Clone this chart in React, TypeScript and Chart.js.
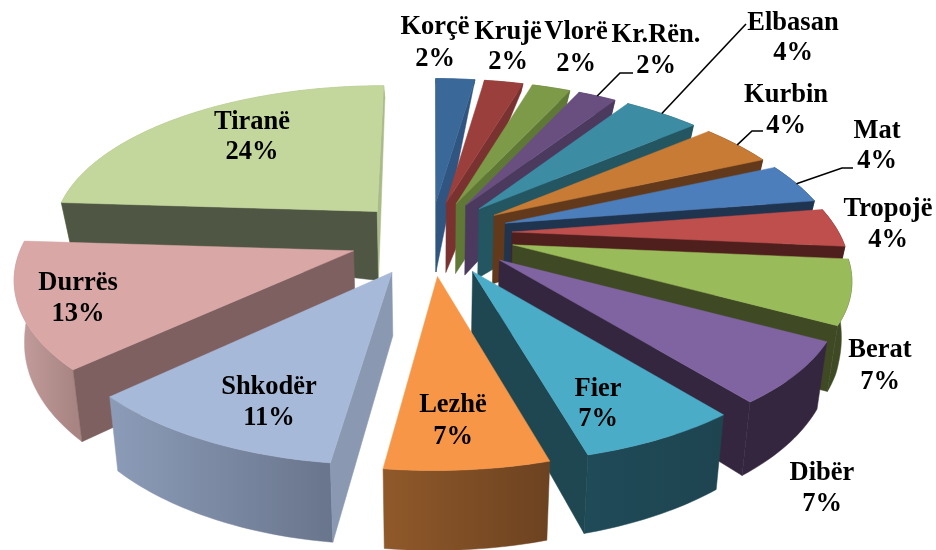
import React, { useEffect, useRef } from "react";
import { Chart, registerables } from "chart.js";

Chart.register(...registerables);

const categories = ["Korçë", "Krujë", "Vlorë", "Kr.Rën.", "Elbasan", "Kurbin", "Mat", "Tropojë", "Berat", "Dibër", "Fier", "Lezhë", "Shkodër", "Durrës", "Tiranë"];
const shares = [2, 2, 2, 2, 4, 4, 4, 4, 7, 7, 7, 7, 11, 13, 24];

const topColors = ["#3A6899", "#9B3F3C", "#7C9A47", "#694F80", "#3C8DA3", "#C87B35", "#4D7EBC", "#BE4F4C", "#9ABB59", "#8064A2", "#4AACC6", "#F79646", "#A7B9D8", "#D8A7A6", "#C3D69B"];
const startWall = ["#2F5580", "#7A3230", "#607836", "#4B3A5E", "#235661", "#62391A", "#1F344F", "#4F1F1E", "#3F4A24", "#35263F", "#1E4752", "#7A4A22", "#8A98B2", "#7E6060", "#4F5744"];
const endWall = ["#2F5580", "#7A3230", "#607836", "#4B3A5E", "#235661", "#62391A", "#1F344F", "#4F1F1E", "#3F4A24", "#35263F", "#1E4752", "#7A4A22", "#8A98B2", "#7E6060", "#A9BB88"];
const outerFrom = ["#2F5580", "#7A3230", "#607836", "#4B3A5E", "#235661", "#62391A", "#1F344F", "#4F1F1E", "#3F4A24", "#35263F", "#1F4A58", "#90592A", "#8C9CB8", "#C09B99", "#A9BB88"];
const outerTo = ["#2F5580", "#7A3230", "#607836", "#4B3A5E", "#235661", "#62391A", "#1F344F", "#4F1F1E", "#3F4A24", "#35263F", "#1E4450", "#6C4220", "#69758C", "#A88482", "#A9BB88"];

// Text placement of each data label: centre x, first line y, second line y.
const labelSpots: [number, number, number][] = [
  [435, 27, 59], [508, 32, 62], [576, 32, 64], [656, 35, 66], [793, 23, 53],
  [786, 95, 126], [877, 131, 161], [888, 209, 240], [880, 350, 382], [822, 473, 504],
  [598, 389, 419], [453, 405, 437], [269, 387, 418], [78, 283, 314], [252, 122, 152],
];
// Elbow points of the leader lines, by category index.
const leaders: Record<number, [number, number][]> = {
  3: [[620, 73], [633, 73]],
  4: [[746, 24]],
  5: [[752, 131], [763, 131]],
  6: [[842, 168], [853, 168]],
};

const SX = 332;
const SY = 152;
const PERSPECTIVE_X = 0.135;
const PERSPECTIVE_Y = 0.15;

function depthAt(u: number, v: number) {
  let d: number;
  if (v < -0.25) d = Math.max(4, 70 - 66 * (v + 0.25) * (v + 0.25));
  else if (v < 0.25) d = 70 - (v + 0.25) * 14;
  else d = 63 + (v - 0.25) * 17;
  const side = Math.min(1, Math.max(0, Math.abs(u) - 0.3));
  const back = Math.min(1, Math.max(0, (0.3 - v) / 0.6));
  return d * (1 - 0.5 * side * back);
}

const pie3d = {
  id: "pie3d",
  beforeDatasetsDraw(chart: any) {
    const ctx: CanvasRenderingContext2D = chart.ctx;
    const arcs = chart.getDatasetMeta(0).data as any[];
    const project = (cx: number, cy: number, u: number, v: number, lower: boolean): [number, number] => {
      let x = (SX * u) / (1 - PERSPECTIVE_X * v) + (v > 0 ? -6 * v : 0);
      let y = cy + (SY * v) / (1 - PERSPECTIVE_Y * v);
      if (u > 0) {
        y += 16 * u * u;
        x += 5 * u - 18 * v * u;
      } else {
        x += -4.5 * u * Math.min(1, Math.max(0.5, 0.5 - 2 * v));
      }
      if (lower) {
        x *= 0.975;
        y += depthAt(u, v);
      }
      return [cx + x, y];
    };
    const fillPoly = (pts: [number, number][], fill: any) => {
      ctx.beginPath();
      pts.forEach((p, i) => (i ? ctx.lineTo(p[0], p[1]) : ctx.moveTo(p[0], p[1])));
      ctx.closePath();
      ctx.fillStyle = fill;
      ctx.strokeStyle = fill;
      ctx.lineWidth = 0.5;
      ctx.fill();
      ctx.stroke();
    };
    const sideOf = (p: [number, number], q: [number, number], r: [number, number]) =>
      (q[0] - p[0]) * (r[1] - p[1]) - (q[1] - p[1]) * (r[0] - p[0]);
    const order = arcs.map((_, i) => i).sort((p, q) => {
      const mid = (a: any) => (a.startAngle + a.endAngle) / 2;
      return Math.sin(mid(arcs[p])) - Math.sin(mid(arcs[q]));
    });
    ctx.save();
    order.forEach((i) => {
      const arc = arcs[i];
      const mid = (arc.startAngle + arc.endAngle) / 2;
      const ex = arc.options.offset / arc.outerRadius;
      const ou = ex * Math.cos(mid);
      const ov = ex * Math.sin(mid);
      const steps = Math.max(4, Math.ceil((arc.endAngle - arc.startAngle) / 0.02));
      const rim: [number, number][] = [];
      for (let s = 0; s <= steps; s++) {
        const t = arc.startAngle + ((arc.endAngle - arc.startAngle) * s) / steps;
        rim.push([ou + Math.cos(t), ov + Math.sin(t)]);
      }
      const up = (p: [number, number]) => project(arc.x, arc.y, p[0], p[1], false);
      const dn = (p: [number, number]) => project(arc.x, arc.y, p[0], p[1], true);
      const tip: [number, number] = [ou, ov];
      const a = rim[0];
      const b = rim[rim.length - 1];
      const xa = up(a)[0];
      const xb = up(b)[0];
      const grad = ctx.createLinearGradient(Math.min(xa, xb), 0, Math.max(xa, xb) + 1, 0);
      grad.addColorStop(0, outerFrom[i]);
      grad.addColorStop(1, outerTo[i]);
      fillPoly([...rim.map(up), ...rim.slice().reverse().map(dn)], grad);
      const inner = up([ou + 0.5 * Math.cos(mid), ov + 0.5 * Math.sin(mid)]);
      const wall = (corner: [number, number], colour: string) => {
        const p = up(tip);
        const q = up(corner);
        const below: [number, number] = [(p[0] + q[0]) / 2, (p[1] + q[1]) / 2 + 10];
        if (sideOf(p, q, below) * sideOf(p, q, inner) < 0) {
          fillPoly([p, q, dn(corner), dn(tip)], colour);
        }
      };
      wall(a, startWall[i]);
      wall(b, endWall[i]);
      fillPoly([up(tip), ...rim.map(up)], arc.options.backgroundColor);
    });
    // leader lines, from the middle of the slice's rim
    ctx.strokeStyle = "#000";
    ctx.lineWidth = 1.6;
    Object.keys(leaders).forEach((key) => {
      const i = Number(key);
      const arc = arcs[i];
      const mid = (arc.startAngle + arc.endAngle) / 2;
      const ex = arc.options.offset / arc.outerRadius;
      const s = project(arc.x, arc.y, (1 + ex) * Math.cos(mid), (1 + ex) * Math.sin(mid), false);
      ctx.beginPath();
      ctx.moveTo(s[0], s[1]);
      leaders[i].forEach((p) => ctx.lineTo(p[0], p[1]));
      ctx.stroke();
    });
    // data labels
    ctx.fillStyle = "#000";
    ctx.font = 'bold 26.5px "Liberation Serif"';
    ctx.textAlign = "center";
    ctx.textBaseline = "middle";
    arcs.forEach((_, i) => {
      const [x, y1, y2] = labelSpots[i];
      ctx.fillText(categories[i], x, y1);
      ctx.fillText(shares[i] + "%", x, y2);
    });
    ctx.restore();
    return false;
  },
};

export default function App() {
  const ref = useRef<HTMLCanvasElement>(null);
  useEffect(() => {
    document.body.style.margin = "0";
    document.body.style.background = "#fff";
    const chart = new Chart(ref.current!, {
      type: "pie",
      data: {
        labels: categories,
        datasets: [{ data: shares, backgroundColor: topColors, borderWidth: 0, offset: 52 }],
      },
      options: {
        animation: false,
        responsive: false,
        layout: { padding: { right: 74, bottom: 74, left: 0, top: 0 } },
        plugins: { legend: { display: false }, tooltip: { enabled: false }, title: { display: false } },
        events: [],
      },
      plugins: [pie3d],
    } as any);
    return () => chart.destroy();
  }, []);
  return (
    <div style={{ width: 936, height: 550 }}>
      <canvas ref={ref} width={936} height={550} style={{ display: "block" }} />
    </div>
  );
}
